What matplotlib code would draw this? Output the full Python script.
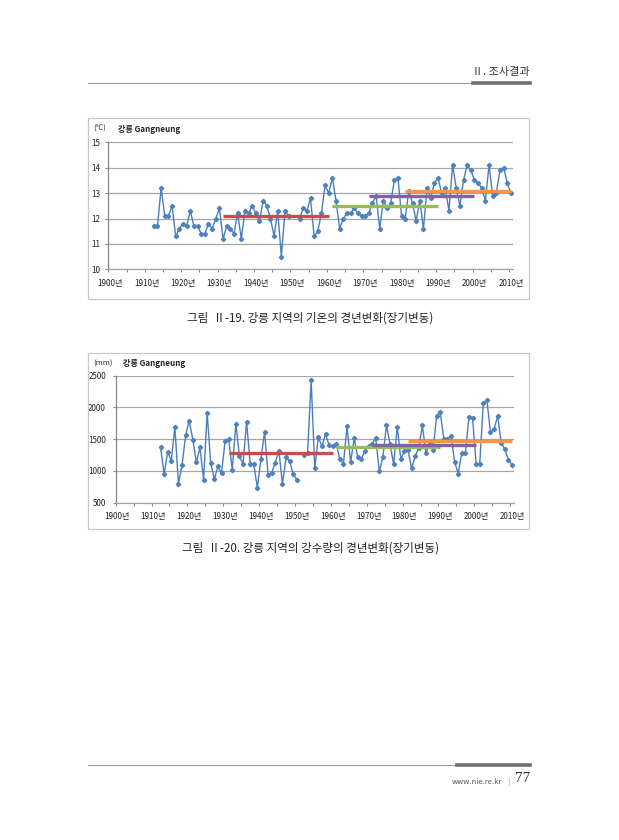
import numpy as np
import matplotlib
matplotlib.use("Agg")
import matplotlib.pyplot as plt
from matplotlib.lines import Line2D
from matplotlib.patches import Rectangle

plt.rcParams['font.family'] = ['Noto Sans CJK KR', 'DejaVu Sans']

W, H = 619, 840

# --- data ---
years = list(range(1912, 2011))

# annual mean temperature, Gangneung (deg C); 1950-1951 missing
temperature = [
    11.7, 11.7, 13.2, 12.1, 12.1, 12.5, 11.3, 11.6, 11.8, 11.7,
    12.3, 11.7, 11.7, 11.4, 11.4, 11.8, 11.6, 12.0, 12.4, 11.2,
    11.7, 11.6, 11.4, 12.2, 11.2, 12.3, 12.2, 12.5, 12.2, 11.9,
    12.7, 12.5, 12.0, 11.3, 12.3, 10.5, 12.3, 12.1, np.nan, np.nan,
    12.0, 12.4, 12.3, 12.8, 11.3, 11.5, 12.2, 13.3, 13.0, 13.6,
    12.7, 11.6, 12.0, 12.2, 12.2, 12.4, 12.2, 12.1, 12.1, 12.2,
    12.6, 12.9, 11.6, 12.7, 12.4, 12.6, 13.5, 13.6, 12.1, 12.0,
    13.1, 12.6, 11.9, 12.7, 11.6, 13.2, 12.8, 13.4, 13.6, 13.0,
    13.2, 12.3, 14.1, 13.2, 12.5, 13.5, 14.1, 13.9, 13.5, 13.4,
    13.2, 12.7, 14.1, 12.9, 13.0, 13.9, 14.0, 13.4, 13.0,
]

# annual precipitation, Gangneung (mm); 1951 missing
precipitation = [
    1370, 950, 1300, 1160, 1690, 795, 1090, 1560, 1790, 1490,
    1140, 1370, 860, 1910, 1120, 870, 1070, 960, 1470, 1500,
    1020, 1745, 1230, 1110, 1770, 1110, 1100, 735, 1190, 1610,
    935, 970, 1130, 1315, 795, 1210, 1150, 945, 860, np.nan,
    1255, 1285, 2430, 1040, 1530, 1390, 1575, 1405, 1390, 1420,
    1180, 1110, 1700, 1135, 1510, 1215, 1190, 1315, 1390, 1430,
    1515, 990, 1220, 1720, 1415, 1105, 1690, 1185, 1310, 1330,
    1040, 1230, 1355, 1715, 1285, 1425, 1335, 1870, 1920, 1495,
    1495, 1555, 1140, 955, 1285, 1275, 1855, 1835, 1105, 1110,
    2075, 2110, 1605, 1655, 1865, 1440, 1340, 1175, 1095,
]

# 30-year normals
normal_periods = [(1931, 1960), (1961, 1990), (1971, 2000), (1981, 2010)]
temp_normals = [12.1, 12.5, 12.9, 13.1]
precip_normals = [1285, 1380, 1400, 1470]
normal_colors = ['#C0504D', '#9BBB59', '#8064A2', '#F79646']

label_years = list(range(1900, 2011, 10))
tick_labels = [f'{y}년' for y in label_years]


def px_box(left, top, right, bottom):
    return [left / W, 1 - bottom / H, (right - left) / W, (bottom - top) / H]


def fx(x):
    return x / W


def fy(y):
    return 1 - y / H


def draw_chart(ax, values, normals, ylim, ystep, ypad):
    x = np.array(years) - 1900
    ax.plot(x, values, color='#4A7EBB', lw=1.0, marker='D', markersize=2.2,
            markerfacecolor='#4F81BD', markeredgecolor='#4F81BD', zorder=3)
    for (y0, y1), val, col in zip(normal_periods, normals, normal_colors):
        ax.plot([y0 - 1900, y1 - 1900], [val, val], color=col, lw=2.4,
                solid_capstyle='butt', zorder=4)

    ax.set_xlim(-0.5, 110.5)
    ax.set_ylim(*ylim)
    ax.set_yticks(np.arange(ylim[0], ylim[1] + 1e-6, ystep))
    ax.grid(axis='y', color='#A6A6A6', lw=0.9)
    ax.set_axisbelow(True)

    ax.set_xticks([y - 1900 for y in label_years])
    ax.set_xticklabels(tick_labels)
    ax.set_xticks(np.arange(-0.5, 110, 5), minor=True)
    ax.tick_params(axis='x', which='major', length=0, pad=7, labelsize=5.8,
                   labelcolor='#222222')
    ax.tick_params(axis='x', which='minor', length=2.5, width=0.8,
                   color='#868686')
    ax.tick_params(axis='y', length=2, width=0.8, color='#868686',
                   pad=ypad, labelsize=5.8, labelcolor='#222222')

    for s in ['top', 'right']:
        ax.spines[s].set_visible(False)
    ax.spines['left'].set_color('#868686')
    ax.spines['bottom'].set_color('#A6A6A6')
    ax.spines['left'].set_linewidth(0.9)
    ax.spines['bottom'].set_linewidth(0.9)


fig = plt.figure(figsize=(W / 100, H / 100), dpi=100)

# page header
fig.add_artist(Line2D([fx(88), fx(473)], [fy(83.3), fy(83.3)], color='#9A9A9A', lw=0.8))
fig.add_artist(Line2D([fx(473), fx(530)], [fy(83.3), fy(83.3)], color='#707070', lw=2.6))
fig.text(fx(530), fy(72), 'Ⅱ. 조사결과', ha='right', va='center', fontsize=8, color='#333333')

# chart frames
for top, bottom in [(118, 299), (353, 529)]:
    fig.add_artist(Rectangle((fx(88), fy(bottom)), fx(529) - fx(88), fy(top) - fy(bottom),
                             transform=fig.transFigure, fill=False,
                             edgecolor='#C8C8C8', lw=0.9))

# temperature chart
ax1 = fig.add_axes(px_box(108.3, 142.3, 512.7, 269.3))
draw_chart(ax1, temperature, temp_normals, (10, 15), 1, 3.5)
fig.text(fx(93), fy(129), '(℃)', ha='left', va='center', fontsize=5.5, color='#333333')
fig.text(fx(118), fy(129), '강릉 Gangneung', ha='left', va='center', fontsize=5.8,
         fontweight='bold', color='#222222')
fig.text(fx(310), fy(318), '그림  Ⅱ-19. 강릉 지역의 기온의 경년변화(장기변동)',
         ha='center', va='center', fontsize=8.3, color='#222222')

# precipitation chart
ax2 = fig.add_axes(px_box(115.7, 375.7, 513.8, 502.5))
draw_chart(ax2, precipitation, precip_normals, (500, 2500), 500, 5)
fig.text(fx(93), fy(364), '(mm)', ha='left', va='center', fontsize=5.5, color='#333333')
fig.text(fx(123), fy(364), '강릉 Gangneung', ha='left', va='center', fontsize=5.8,
         fontweight='bold', color='#222222')
fig.text(fx(310), fy(548), '그림  Ⅱ-20. 강릉 지역의 강수량의 경년변화(장기변동)',
         ha='center', va='center', fontsize=8.3, color='#222222')

# page footer
fig.add_artist(Line2D([fx(88), fx(457)], [fy(765.3), fy(765.3)], color='#9A9A9A', lw=0.8))
fig.add_artist(Line2D([fx(457), fx(530)], [fy(765.3), fy(765.3)], color='#707070', lw=2.6))
fig.text(fx(502), fy(782), 'www.nie.re.kr', ha='right', va='center', fontsize=5.5, color='#555555')
fig.text(fx(509), fy(782), '|', ha='center', va='center', fontsize=4.5, color='#777777')
fig.text(fx(515), fy(779), '77', ha='left', va='center', fontsize=11,
         family='Liberation Serif', color='#333333')

fig.savefig('out.png', dpi=100)
